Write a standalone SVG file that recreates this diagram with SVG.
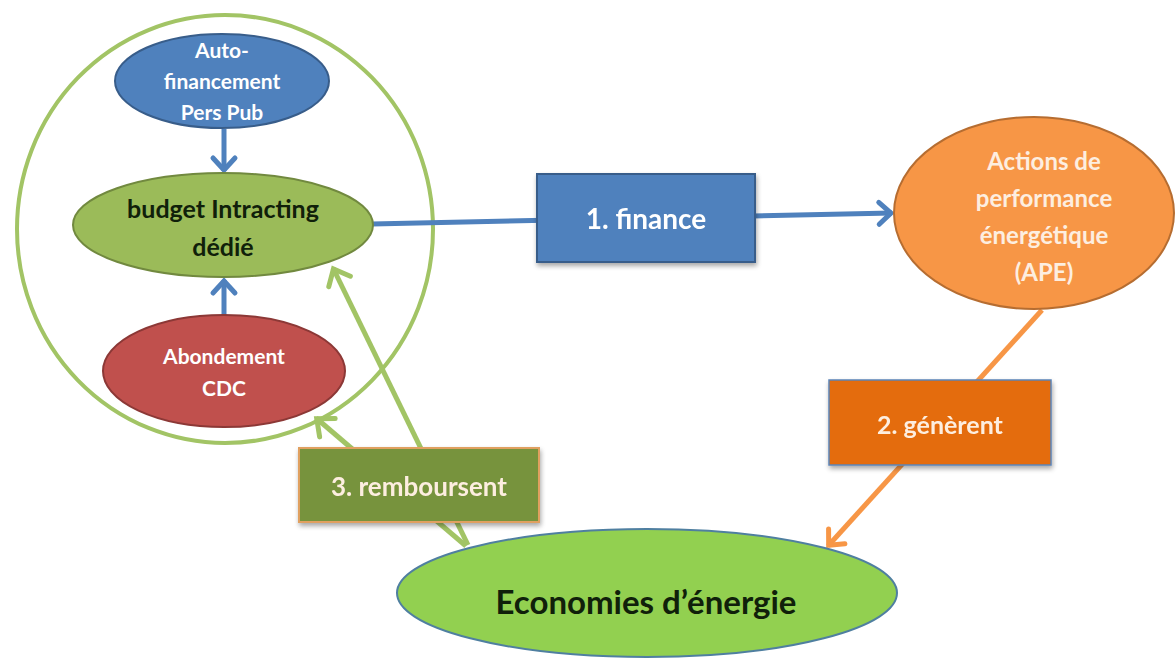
<svg xmlns="http://www.w3.org/2000/svg" width="1176" height="661" viewBox="0 0 1176 661">
  <style>
    .lbl { font-family: Lato, "Open Sans", "Liberation Sans", sans-serif; font-weight: bold; text-anchor: middle; dominant-baseline: central; }
    .white { fill: #ffffff; }
    .cream { fill: #fdeee0; }
    .dark { fill: #10200a; }
    .conn { fill: none; stroke-width: 5; stroke-linecap: butt; }
    .head { fill: none; stroke-width: 5; stroke-linejoin: miter; stroke-linecap: round; }
  </style>
  <defs>
    <!-- open chevron heads, drawn in user units with the tip at the path end -->
    <marker id="headBlue" markerUnits="userSpaceOnUse" markerWidth="40" markerHeight="40" refX="0" refY="0" orient="auto" overflow="visible">
      <path class="head" d="M-13,-11 L-1,0 L-13,11" stroke="#4f81bd"/>
    </marker>
    <marker id="headOrange" markerUnits="userSpaceOnUse" markerWidth="40" markerHeight="40" refX="0" refY="0" orient="auto" overflow="visible">
      <path class="head" d="M-13,-11 L-1,0 L-13,11" stroke="#f79646"/>
    </marker>
    <marker id="headGreen" markerUnits="userSpaceOnUse" markerWidth="40" markerHeight="40" refX="0" refY="0" orient="auto" overflow="visible">
      <path class="head" d="M-15,-12 L-1,0 L-15,12" stroke="#a2c465"/>
    </marker>
    <filter id="shadow" x="-10%" y="-10%" width="125%" height="135%">
      <feGaussianBlur in="SourceAlpha" stdDeviation="2.5"/>
      <feOffset dx="1" dy="3" result="b"/>
      <feComponentTransfer><feFuncA type="linear" slope="0.35"/></feComponentTransfer>
      <feMerge><feMergeNode/><feMergeNode in="SourceGraphic"/></feMerge>
    </filter>
  </defs>

  <rect x="0" y="0" width="1176" height="661" fill="#ffffff"/>

  <!-- enclosing ring around the funding sources -->
  <g id="ring">
    <ellipse cx="225" cy="229" rx="208" ry="214" fill="none" stroke="#a2c465" stroke-width="4"/>
  </g>

  <!-- connectors -->
  <g id="connectors">
    <path class="conn" d="M372,224 L892,213" stroke="#4f81bd" marker-end="url(#headBlue)"/>
    <path class="conn" d="M224,129 L224,171" stroke="#4f81bd" marker-end="url(#headBlue)"/>
    <path class="conn" d="M224,315 L224,280" stroke="#4f81bd" marker-end="url(#headBlue)"/>
    <path class="conn" d="M1042,310 L828,546" stroke="#f79646" stroke-width="4" marker-end="url(#headOrange)"/>
    <path class="conn" d="M468,545 L333,268" stroke="#a2c465" marker-end="url(#headGreen)"/>
    <path class="conn" d="M466,546 L316,418" stroke="#a2c465" marker-end="url(#headGreen)"/>
  </g>

  <g id="autofinancement">
    <ellipse cx="222" cy="81" rx="107" ry="47" fill="#4f81bd" stroke="#385d8a" stroke-width="2"/>
    <text class="lbl white" x="222" y="49" font-size="21">Auto-</text>
    <text class="lbl white" x="222" y="80" font-size="21">financement</text>
    <text class="lbl white" x="222" y="111" font-size="21">Pers Pub</text>
  </g>

  <g id="budget">
    <ellipse cx="223" cy="225" rx="150" ry="52" fill="#9bbb59" stroke="#71893f" stroke-width="2"/>
    <text class="lbl dark" x="223" y="208" font-size="25">budget Intracting</text>
    <text class="lbl dark" x="223" y="246" font-size="25">dédié</text>
  </g>

  <g id="abondement">
    <ellipse cx="224" cy="371" rx="121" ry="56" fill="#c0504d" stroke="#8c3836" stroke-width="2"/>
    <text class="lbl white" x="224" y="355" font-size="21">Abondement</text>
    <text class="lbl white" x="224" y="387" font-size="21">CDC</text>
  </g>

  <g id="ape">
    <ellipse cx="1034" cy="213" rx="140" ry="96" fill="#f79646" stroke="#b66d31" stroke-width="2"/>
    <text class="lbl cream" x="1044" y="160" font-size="24">Actions de</text>
    <text class="lbl cream" x="1044" y="197" font-size="24">performance</text>
    <text class="lbl cream" x="1044" y="234" font-size="24">énergétique</text>
    <text class="lbl cream" x="1044" y="271" font-size="24">(APE)</text>
  </g>

  <g id="economies">
    <ellipse cx="647" cy="593" rx="250" ry="64" fill="#92d050" stroke="#4f7fa0" stroke-width="2"/>
    <text class="lbl dark" x="646" y="601" font-size="33">Economies d’énergie</text>
  </g>

  <g id="finance" filter="url(#shadow)">
    <rect x="537" y="174" width="218" height="88" fill="#4f81bd" stroke="#385d8a" stroke-width="2"/>
    <text class="lbl white" x="646" y="218" font-size="28">1. finance</text>
  </g>

  <g id="generent" filter="url(#shadow)">
    <rect x="829" y="380" width="222" height="85" fill="#e46c0a" stroke="#5b84b8" stroke-width="1.5"/>
    <text class="lbl cream" x="940" y="424" font-size="25">2. génèrent</text>
  </g>

  <g id="remboursent" filter="url(#shadow)">
    <rect x="299" y="448" width="240" height="74" fill="#77933c" stroke="#e0a060" stroke-width="2"/>
    <text class="lbl cream" x="419" y="486" font-size="26">3. remboursent</text>
  </g>
</svg>
